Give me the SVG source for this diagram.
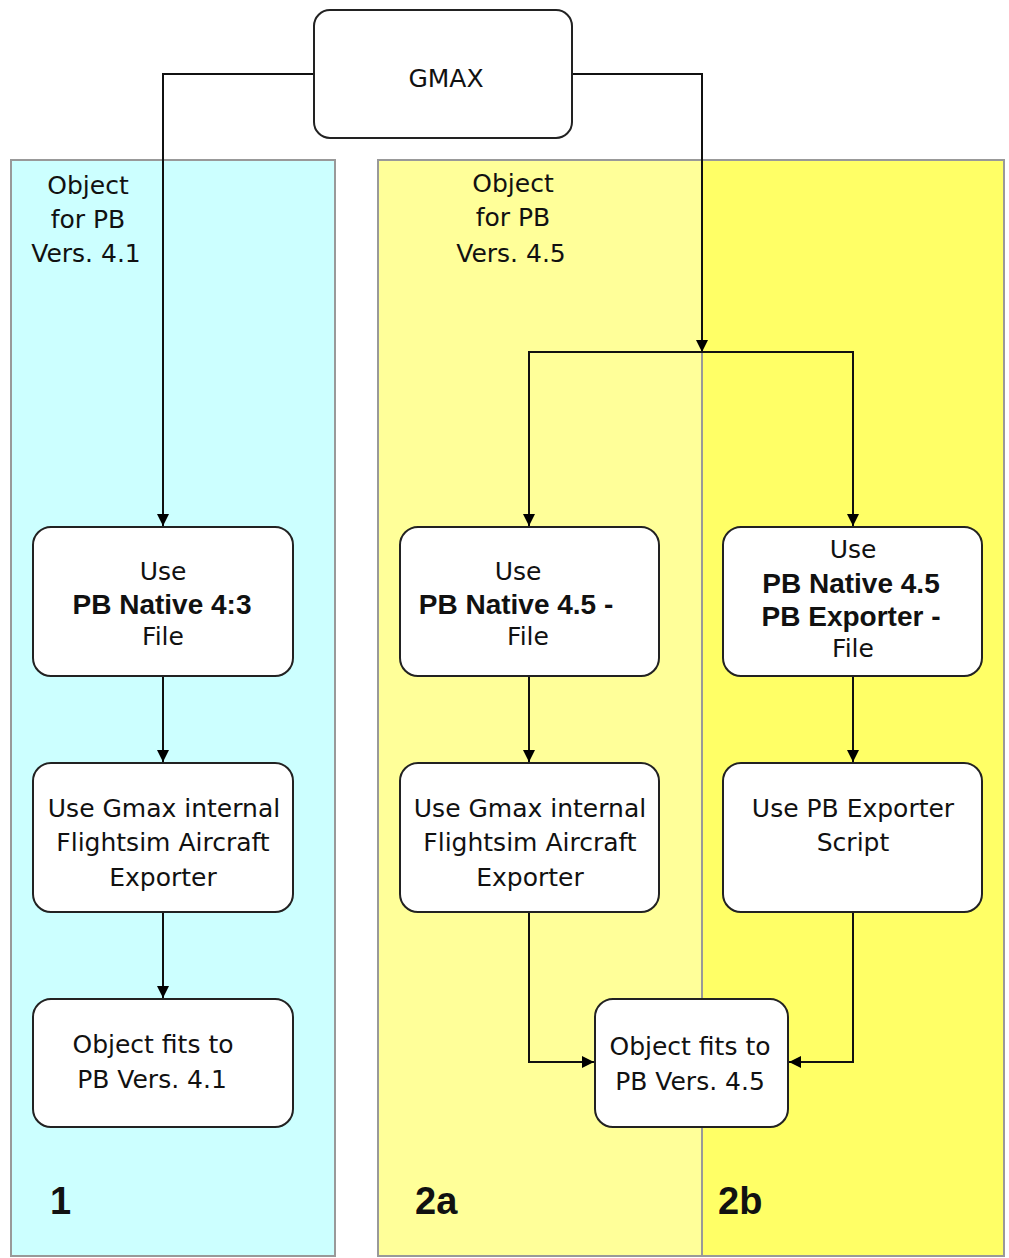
<svg xmlns="http://www.w3.org/2000/svg" width="1009" height="1258" viewBox="0 0 1009 1258">
<defs>
<marker id="ah" viewBox="0 0 10 10" refX="10" refY="5" markerWidth="12" markerHeight="12" markerUnits="userSpaceOnUse" orient="auto">
<path d="M0,0 L10,5 L0,10 z" fill="#000"/>
</marker>
<style>
.panel{stroke:#999;stroke-width:2}
.node rect{fill:#fff;stroke:#222;stroke-width:2}
text{font-family:"DejaVu Sans","Liberation Sans",Arial,sans-serif;font-size:25px;fill:#111;text-anchor:middle}
.b{font-family:"Liberation Sans",Arial,sans-serif;font-weight:bold;font-size:28px}
.big{font-family:"Liberation Sans",Arial,sans-serif;font-weight:bold;font-size:38px;text-anchor:start}
.conn{fill:none;stroke:#111;stroke-width:2}
</style>
</defs>
<rect width="1009" height="1258" fill="#fff"/>
<g id="panel-1">
<rect class="panel" x="11" y="160" width="324" height="1096" fill="#ccffff"/>
<text x="88" y="194">Object</text>
<text x="88" y="228">for PB</text>
<text x="86" y="262">Vers. 4.1</text>
<text class="big" x="50" y="1214">1</text>
</g>
<g id="panel-2">
<rect x="378" y="160" width="324" height="1096" fill="#ffff99"/>
<rect x="702" y="160" width="302" height="1096" fill="#ffff66"/>
<rect x="378" y="160" width="626" height="1096" fill="none" stroke="#999" stroke-width="2"/>
<line x1="702" y1="160" x2="702" y2="1256" stroke="#999" stroke-width="2"/>
<text x="513" y="192">Object</text>
<text x="513" y="226">for PB</text>
<text x="511" y="262">Vers. 4.5</text>
<text class="big" x="415" y="1214">2a</text>
<text class="big" x="718" y="1214">2b</text>
</g>
<g id="connectors">
<polyline class="conn" points="314,74 163,74 163,526" marker-end="url(#ah)"/>
<polyline class="conn" points="572,74 702,74 702,352" marker-end="url(#ah)"/>
<polyline class="conn" points="702,352 529,352 529,526" marker-end="url(#ah)"/>
<polyline class="conn" points="702,352 853,352 853,526" marker-end="url(#ah)"/>
<line class="conn" x1="163" y1="676" x2="163" y2="762" marker-end="url(#ah)"/>
<line class="conn" x1="163" y1="912" x2="163" y2="998" marker-end="url(#ah)"/>
<line class="conn" x1="529" y1="676" x2="529" y2="762" marker-end="url(#ah)"/>
<line class="conn" x1="853" y1="676" x2="853" y2="762" marker-end="url(#ah)"/>
<polyline class="conn" points="529,912 529,1062 594,1062" marker-end="url(#ah)"/>
<polyline class="conn" points="853,912 853,1062 789,1062" marker-end="url(#ah)"/>
</g>
<g id="gmax" class="node">
<rect x="314" y="10" width="258" height="128" rx="16"/>
<text x="446" y="87">GMAX</text>
</g>
<g id="use-native-43" class="node">
<rect x="33" y="527" width="260" height="149" rx="18"/>
<text x="163" y="580">Use</text>
<text class="b" x="162" y="614">PB Native 4:3</text>
<text x="163" y="645">File</text>
</g>
<g id="gmax-exporter-1" class="node">
<rect x="33" y="763" width="260" height="149" rx="18"/>
<text x="164" y="817">Use Gmax internal</text>
<text x="163" y="851">Flightsim Aircraft</text>
<text x="163" y="886">Exporter</text>
</g>
<g id="fits-41" class="node">
<rect x="33" y="999" width="260" height="128" rx="18"/>
<text x="153" y="1053">Object fits to</text>
<text x="152" y="1088">PB Vers. 4.1</text>
</g>
<g id="use-native-45" class="node">
<rect x="400" y="527" width="259" height="149" rx="18"/>
<text x="518" y="580">Use</text>
<text class="b" x="516" y="614">PB Native 4.5 -</text>
<text x="528" y="645">File</text>
</g>
<g id="gmax-exporter-2a" class="node">
<rect x="400" y="763" width="259" height="149" rx="18"/>
<text x="530" y="817">Use Gmax internal</text>
<text x="530" y="851">Flightsim Aircraft</text>
<text x="530" y="886">Exporter</text>
</g>
<g id="use-native-exporter" class="node">
<rect x="723" y="527" width="259" height="149" rx="18"/>
<text x="853" y="558">Use</text>
<text class="b" x="851" y="593">PB Native 4.5</text>
<text class="b" x="851" y="626">PB Exporter -</text>
<text x="853" y="657">File</text>
</g>
<g id="pb-exporter-script" class="node">
<rect x="723" y="763" width="259" height="149" rx="18"/>
<text x="853" y="817">Use PB Exporter</text>
<text x="853" y="851">Script</text>
</g>
<g id="fits-45" class="node">
<rect x="595" y="999" width="193" height="128" rx="18"/>
<text x="690" y="1055">Object fits to</text>
<text x="690" y="1090">PB Vers. 4.5</text>
</g>
</svg>
